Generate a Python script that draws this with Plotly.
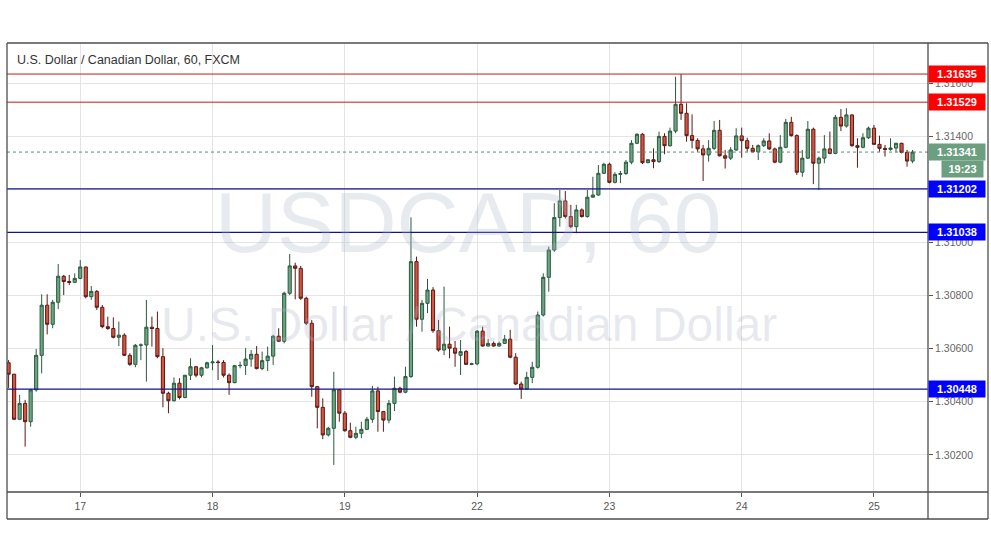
import plotly.graph_objects as go

# ---- data (hourly candles) ----
open_ = [1.30547,1.30504,1.30334,1.30394,1.30325,1.30445,1.30575,1.30764,1.30692,1.30775,
1.30873,1.30853,1.30850,1.30865,1.30908,1.30796,1.30816,1.30756,1.30683,1.30676,
1.30643,1.30651,1.30575,1.30541,1.30613,1.30614,1.30681,1.30676,1.30570,1.30432,
1.30404,1.30470,1.30416,1.30500,1.30532,1.30500,1.30528,1.30547,1.30550,1.30548,
1.30500,1.30472,1.30536,1.30537,1.30561,1.30579,1.30525,1.30555,1.30572,1.30647,
1.30628,1.30809,1.30912,1.30903,1.30790,1.30696,1.30457,1.30379,1.30275,1.30300,
1.30445,1.30357,1.30291,1.30266,1.30281,1.30296,1.30334,1.30441,1.30363,1.30331,
1.30394,1.30451,1.30436,1.30495,1.30928,1.30711,1.30771,1.30821,1.30668,1.30595,
1.30617,1.30602,1.30575,1.30589,1.30541,1.30543,1.30666,1.30610,1.30620,1.30610,
1.30620,1.30636,1.30568,1.30467,1.30448,1.30492,1.30530,1.30727,1.30869,1.30972,
1.31094,1.31157,1.31098,1.31060,1.31123,1.31098,1.31171,1.31179,1.31261,1.31295,
1.31227,1.31257,1.31260,1.31303,1.31374,1.31408,1.31301,1.31312,1.31305,1.31400,
1.31365,1.31420,1.31521,1.31487,1.31403,1.31385,1.31353,1.31330,1.31355,1.31423,
1.31327,1.31318,1.31349,1.31402,1.31384,1.31355,1.31342,1.31365,1.31383,1.31353,
1.31303,1.31359,1.31453,1.31403,1.31265,1.31318,1.31427,1.31299,1.31318,1.31353,
1.31336,1.31472,1.31439,1.31481,1.31365,1.31359,1.31395,1.31431,1.31370,1.31355,
1.31351,1.31356,1.31374,1.31340,1.31307]
high = [1.30557,1.30505,1.30426,1.30407,1.30447,1.30599,1.30805,1.30805,1.30784,1.30919,
1.30878,1.30878,1.30884,1.30934,1.30909,1.30836,1.30821,1.30765,1.30721,1.30718,
1.30702,1.30658,1.30583,1.30618,1.30620,1.30784,1.30721,1.30740,1.30602,1.30438,
1.30492,1.30489,1.30501,1.30564,1.30535,1.30532,1.30551,1.30614,1.30557,1.30557,
1.30507,1.30539,1.30551,1.30602,1.30595,1.30610,1.30589,1.30608,1.30652,1.30677,
1.30815,1.30957,1.30924,1.30912,1.30796,1.30708,1.30460,1.30413,1.30306,1.30513,
1.30448,1.30365,1.30321,1.30306,1.30325,1.30343,1.30460,1.30457,1.30365,1.30407,
1.30495,1.30457,1.30532,1.31095,1.30947,1.30784,1.30863,1.30832,1.30708,1.30834,
1.30683,1.30629,1.30633,1.30595,1.30547,1.30671,1.30683,1.30636,1.30627,1.30627,
1.30652,1.30671,1.30583,1.30476,1.30513,1.30551,1.30740,1.30884,1.30984,1.31148,
1.31198,1.31194,1.31142,1.31142,1.31129,1.31198,1.31248,1.31292,1.31301,1.31301,
1.31265,1.31270,1.31311,1.31386,1.31412,1.31412,1.31315,1.31355,1.31418,1.31412,
1.31433,1.31625,1.31635,1.31525,1.31483,1.31393,1.31368,1.31386,1.31458,1.31462,
1.31349,1.31360,1.31431,1.31433,1.31395,1.31368,1.31370,1.31393,1.31412,1.31358,
1.31405,1.31466,1.31474,1.31408,1.31349,1.31458,1.31433,1.31324,1.31405,1.31418,
1.31481,1.31503,1.31506,1.31483,1.31393,1.31412,1.31437,1.31443,1.31403,1.31368,
1.31393,1.31376,1.31376,1.31349,1.31349]
low = [1.30452,1.30331,1.30331,1.30231,1.30306,1.30438,1.30507,1.30654,1.30677,1.30749,
1.30802,1.30840,1.30849,1.30862,1.30790,1.30784,1.30746,1.30677,1.30671,1.30639,
1.30610,1.30573,1.30535,1.30530,1.30557,1.30476,1.30608,1.30564,1.30379,1.30357,
1.30401,1.30409,1.30413,1.30482,1.30492,1.30492,1.30525,1.30519,1.30482,1.30492,
1.30426,1.30470,1.30526,1.30501,1.30532,1.30522,1.30519,1.30516,1.30539,1.30627,
1.30620,1.30802,1.30786,1.30784,1.30689,1.30419,1.30300,1.30259,1.30269,1.30162,
1.30325,1.30287,1.30263,1.30259,1.30263,1.30294,1.30321,1.30287,1.30287,1.30319,
1.30365,1.30432,1.30432,1.30490,1.30683,1.30664,1.30734,1.30660,1.30589,1.30576,
1.30564,1.30532,1.30501,1.30539,1.30538,1.30538,1.30608,1.30608,1.30608,1.30608,
1.30618,1.30564,1.30463,1.30411,1.30445,1.30470,1.30525,1.30721,1.30815,1.30965,
1.31060,1.31091,1.31054,1.31035,1.31094,1.31094,1.31169,1.31177,1.31258,1.31223,
1.31223,1.31224,1.31255,1.31295,1.31371,1.31296,1.31299,1.31280,1.31300,1.31333,
1.31361,1.31412,1.31462,1.31380,1.31355,1.31342,1.31232,1.31305,1.31349,1.31324,
1.31279,1.31311,1.31345,1.31320,1.31342,1.31340,1.31311,1.31360,1.31349,1.31299,
1.31299,1.31355,1.31399,1.31255,1.31248,1.31315,1.31220,1.31198,1.31299,1.31333,
1.31333,1.31420,1.31433,1.31361,1.31282,1.31355,1.31390,1.31368,1.31342,1.31324,
1.31346,1.31340,1.31336,1.31286,1.31299]
close = [1.30504,1.30334,1.30394,1.30325,1.30445,1.30575,1.30764,1.30692,1.30775,1.30873,
1.30853,1.30850,1.30865,1.30908,1.30796,1.30816,1.30756,1.30683,1.30676,1.30643,
1.30651,1.30575,1.30541,1.30613,1.30614,1.30681,1.30676,1.30570,1.30432,1.30404,
1.30470,1.30416,1.30500,1.30532,1.30500,1.30528,1.30547,1.30550,1.30548,1.30500,
1.30472,1.30536,1.30537,1.30561,1.30579,1.30525,1.30555,1.30572,1.30647,1.30628,
1.30809,1.30912,1.30903,1.30790,1.30696,1.30457,1.30379,1.30275,1.30300,1.30445,
1.30357,1.30291,1.30266,1.30281,1.30296,1.30334,1.30441,1.30363,1.30331,1.30394,
1.30451,1.30436,1.30495,1.30928,1.30711,1.30771,1.30821,1.30668,1.30595,1.30617,
1.30602,1.30583,1.30589,1.30541,1.30543,1.30666,1.30610,1.30620,1.30610,1.30620,
1.30636,1.30568,1.30467,1.30448,1.30492,1.30530,1.30727,1.30869,1.30972,1.31094,
1.31157,1.31098,1.31060,1.31123,1.31098,1.31171,1.31179,1.31261,1.31295,1.31227,
1.31257,1.31260,1.31303,1.31374,1.31408,1.31301,1.31312,1.31305,1.31400,1.31365,
1.31420,1.31521,1.31487,1.31403,1.31385,1.31353,1.31330,1.31355,1.31423,1.31327,
1.31318,1.31349,1.31402,1.31384,1.31355,1.31342,1.31365,1.31383,1.31353,1.31303,
1.31359,1.31453,1.31403,1.31265,1.31318,1.31427,1.31299,1.31318,1.31353,1.31336,
1.31472,1.31439,1.31481,1.31365,1.31359,1.31395,1.31431,1.31370,1.31355,1.31351,
1.31356,1.31374,1.31340,1.31307,1.31341]
bar_index = list(range(len(close)))

day_tick_index = [13, 37, 61, 85, 109, 133, 157]
day_tick_labels = ["17", "18", "19", "22", "23", "24", "25"]
price_ticks = [1.302, 1.304, 1.306, 1.308, 1.310, 1.312, 1.314, 1.316]
# 1.31200 sits completely under the 1.31202 marker in the original, so its text is blank
price_tick_labels = ["1.30200", "1.30400", "1.30600", "1.30800", "1.31000", "", "1.31400", "1.31600"]

resistance_levels = [1.31635, 1.31529]
support_levels = [1.31202, 1.31038, 1.30448]
last_price = 1.31341
countdown = "19:23"

title_text = "U.S. Dollar / Canadian Dollar, 60, FXCM"
watermark_big = "USDCAD, 60"
watermark_small = "U.S. Dollar / Canadian Dollar"

FONT = "Liberation Sans, Arial, sans-serif"

fig = go.Figure()
fig.add_trace(go.Candlestick(
    x=bar_index, open=open_, high=high, low=low, close=close,
    increasing=dict(line=dict(color="#2b5a3e", width=1), fillcolor="#6ba583"),
    decreasing=dict(line=dict(color="#5b1a13", width=1), fillcolor="#d75442"),
    whiskerwidth=0, hoverinfo="skip", showlegend=False,
))

shapes = []
for lv in resistance_levels:
    shapes.append(dict(type="line", xref="paper", x0=0, x1=1, yref="y", y0=lv, y1=lv,
                       line=dict(color="#c41a1a", width=1)))
for lv in support_levels:
    shapes.append(dict(type="line", xref="paper", x0=0, x1=1, yref="y", y0=lv, y1=lv,
                       line=dict(color="#13138a", width=1.2)))
shapes.append(dict(type="line", xref="paper", x0=0, x1=1, yref="y", y0=last_price, y1=last_price,
                   line=dict(color="#5f8f73", width=1, dash="dot")))

# frame lines (chart pane + price scale + time scale)
frame = "#4d4d4d"
XR = (988 - 7) / 921.0
YB = -(519 - 492) / 449.0
for s in [
    dict(x0=0, x1=XR, y0=1, y1=1),
    dict(x0=0, x1=XR, y0=0, y1=0),
    dict(x0=0, x1=XR, y0=YB, y1=YB),
    dict(x0=0, x1=0, y0=YB, y1=1),
    dict(x0=1, x1=1, y0=YB, y1=1),
    dict(x0=XR, x1=XR, y0=YB, y1=1),
]:
    shapes.append(dict(type="line", xref="paper", yref="paper", line=dict(color=frame, width=1.3), **s))

annotations = [
    dict(text=watermark_big, xref="paper", yref="paper", x=(468 - 7) / 921, y=(492 - 222) / 449,
         showarrow=False, font=dict(family=FONT, size=86, color="rgba(170,178,196,0.28)")),
    dict(text=watermark_small, xref="paper", yref="paper", x=(469 - 7) / 921, y=(492 - 324) / 449,
         showarrow=False, font=dict(family=FONT, size=48, color="rgba(170,178,196,0.28)")),
    dict(text=title_text, xref="paper", yref="paper", x=(15 - 7) / 921, y=(492 - 60) / 449,
         xanchor="left", yanchor="middle", showarrow=False,
         font=dict(family=FONT, size=12.5, color="#333333")),
]
for lv in resistance_levels:
    annotations.append(dict(text="<b>%.5f</b>" % lv, xref="paper", yref="y", x=1, y=lv,
                            xanchor="left", yanchor="middle", showarrow=False,
                            bgcolor="#ff0000", width=52, height=12, borderpad=2,
                            font=dict(family=FONT, size=11, color="white")))
for lv in support_levels:
    annotations.append(dict(text="<b>%.5f</b>" % lv, xref="paper", yref="y", x=1, y=lv,
                            xanchor="left", yanchor="middle", showarrow=False,
                            bgcolor="#0000ff", width=52, height=12, borderpad=2,
                            font=dict(family=FONT, size=11, color="white")))
annotations.append(dict(text="<b>%.5f</b>" % last_price, xref="paper", yref="y", x=1, y=last_price,
                        xanchor="left", yanchor="middle", showarrow=False,
                        bgcolor="#6b9f80", width=52, height=12, borderpad=2,
                        font=dict(family=FONT, size=11, color="white")))
annotations.append(dict(text="<b>%s</b>" % countdown, xref="paper", yref="y", x=(984 - 7) / 921, y=last_price,
                        yshift=-17, xanchor="right", yanchor="middle", showarrow=False,
                        bgcolor="#6b9f80", width=37, height=12, borderpad=2,
                        font=dict(family=FONT, size=11, color="white")))

fig.update_layout(
    width=991, height=556,
    margin=dict(l=7, r=63, t=43, b=64),
    paper_bgcolor="white", plot_bgcolor="white",
    font=dict(family=FONT, size=10.5, color="#555555"),
    shapes=shapes, annotations=annotations,
    hovermode=False,
    boxgap=0.18,
    xaxis=dict(range=[-0.29, 166.8], tickvals=day_tick_index, ticktext=day_tick_labels,
               showgrid=True, gridcolor="#e4e4e4", gridwidth=1, zeroline=False,
               ticks="outside", ticklen=4, tickcolor="#555555",
               rangeslider=dict(visible=False), fixedrange=True,
               tickfont=dict(family=FONT, size=10.5, color="#555555")),
    yaxis=dict(range=[1.30060, 1.31752], side="right", tickvals=price_ticks,
               ticktext=price_tick_labels, showgrid=True, gridcolor="#e4e4e4", gridwidth=1,
               zeroline=False, ticks="outside", ticklen=4, tickcolor="#555555",
               tickfont=dict(family=FONT, size=10.5, color="#666666"), fixedrange=True),
)

fig.write_html("out.html", config={"displayModeBar": False},
               post_script="document.body.style.margin='0';document.body.style.padding='0';")
